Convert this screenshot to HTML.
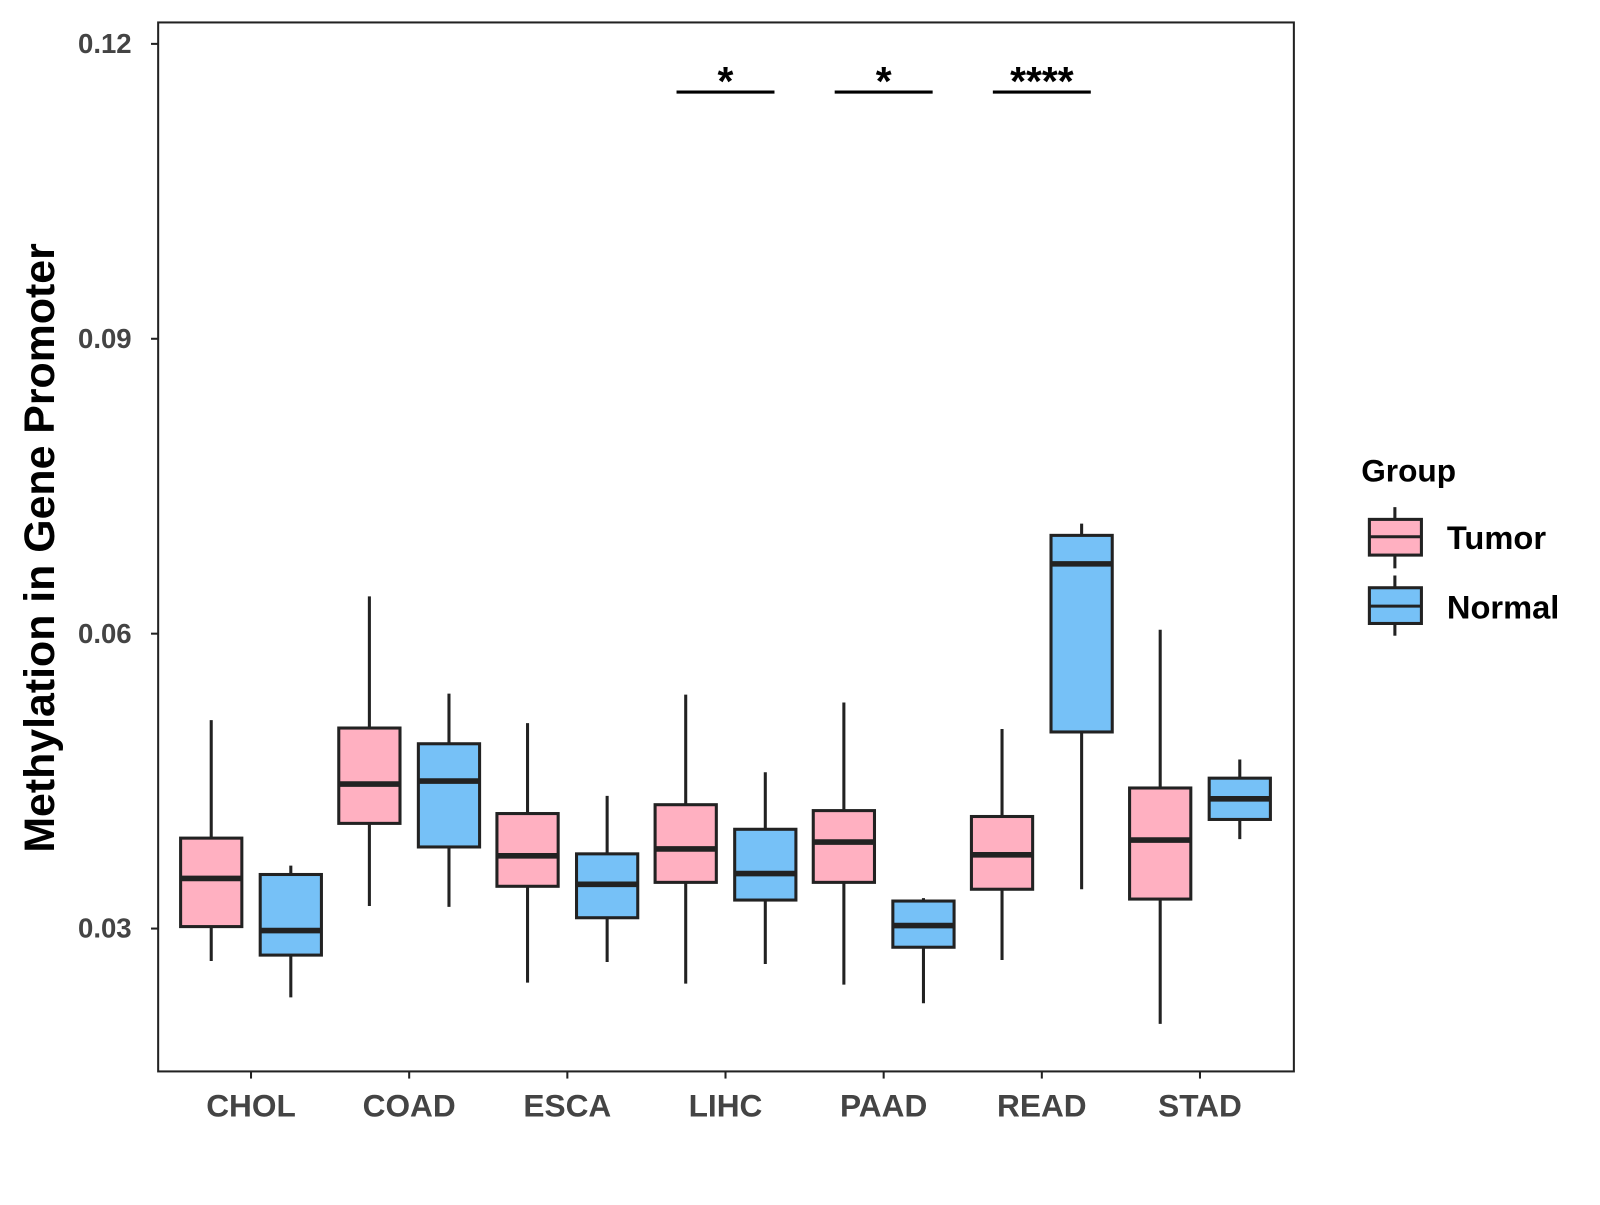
<!DOCTYPE html>
<html><head><meta charset="utf-8"><style>
html,body{margin:0;padding:0;background:#fff;}
svg text{font-family:"Liberation Sans",Arial,sans-serif;font-weight:bold;}
</style></head><body>
<svg id="chart" width="1600" height="1200" xmlns="http://www.w3.org/2000/svg">
<g transform="scale(1.0204)">
<rect x="155" y="22" width="1113" height="1028" fill="#fff" stroke="#222" stroke-width="2"/>
<g id="axes"></g><g id="boxes"></g><g id="sig"></g>
<text transform="translate(53,537) rotate(-90)" text-anchor="middle" font-size="42" fill="#000">Methylation in Gene Promoter</text>
<g>
<text x="1334" y="472" font-size="31" fill="#000">Group</text>
<g>
<line x1="1367" y1="497" x2="1367" y2="557" stroke="#222" stroke-width="3"/>
<rect x="1342" y="509" width="51" height="35" fill="#FFB0C1" stroke="#222" stroke-width="3"/>
<line x1="1342" y1="526" x2="1393" y2="526" stroke="#222" stroke-width="3"/>
<text x="1418" y="538" font-size="32" fill="#000">Tumor</text></g>
<g>
<line x1="1367" y1="564" x2="1367" y2="623" stroke="#222" stroke-width="3"/>
<rect x="1342" y="576" width="51" height="35" fill="#76C1F7" stroke="#222" stroke-width="3"/>
<line x1="1342" y1="594" x2="1393" y2="594" stroke="#222" stroke-width="3"/>
<text x="1418" y="606" font-size="32" fill="#000">Normal</text></g>
</g>
</g>
</svg>
<script>
const categories=["CHOL","COAD","ESCA","LIHC","PAAD","READ","STAD"];
const yTicks=[0.03,0.06,0.09,0.12];
const yTickLabels=["0.03","0.06","0.09","0.12"];
// [low, q1, median, q3, high]
const tumorStats=[[0.0267,0.0302,0.0351,0.0392,0.0512],[0.0323,0.0407,0.0447,0.0504,0.0638],[0.0245,0.0343,0.0374,0.0417,0.0509],[0.0244,0.0347,0.0381,0.0426,0.0538],[0.0243,0.0347,0.0388,0.0420,0.0530],[0.0268,0.0340,0.0375,0.0414,0.0503],[0.0203,0.0330,0.0390,0.0443,0.0604]];
const normalStats=[[0.0230,0.0273,0.0298,0.0355,0.0364],[0.0322,0.0383,0.0450,0.0488,0.0539],[0.0266,0.0311,0.0345,0.0376,0.0435],[0.0264,0.0329,0.0356,0.0401,0.0459],[0.0224,0.0281,0.0303,0.0328,0.0331],[0.0340,0.0500,0.0671,0.0700,0.0712],[0.0391,0.0411,0.0432,0.0453,0.0472]];
const sigCategories=["LIHC","PAAD","READ"];
const sigLabels=["*","*","****"];
const sigLevel=0.1151;
const NS="http://www.w3.org/2000/svg";
const y=v=>43+(0.12-v)*9633.3;
const x=i=>246+i*155;
function mk(tag,attrs,parent){const e=document.createElementNS(NS,tag);for(const k in attrs)e.setAttribute(k,attrs[k]);parent.appendChild(e);return e;}
const ax=document.getElementById('axes');
yTicks.forEach((t,i)=>{
 const l=mk('line',{x1:148,x2:155,y1:y(t),y2:y(t),stroke:'#222','stroke-width':2},ax);
 
 
 const tx=mk('text',{x:129,y:y(t)+9,'text-anchor':'end','font-size':27,fill:'#444'},ax);
 tx.textContent=yTickLabels[i];
 
 
});
categories.forEach((c,i)=>{
 const l=mk('line',{x1:x(i),x2:x(i),y1:1050,y2:1057,stroke:'#222','stroke-width':2},ax);
 
 
 const tx=mk('text',{x:x(i),y:1094,'text-anchor':'middle','font-size':31,fill:'#444'},ax);
 tx.textContent=c;
 
 
});
const bx=document.getElementById('boxes');
function drawBox(s,cx,fill,name){
 const g=mk('g',{},bx);
 
 
 mk('line',{x1:cx,x2:cx,y1:y(s[4]),y2:y(s[0]),stroke:'#222','stroke-width':3},g);
 mk('rect',{x:cx-30,y:y(s[3]),width:60,height:y(s[1])-y(s[3]),fill:fill,stroke:'#222','stroke-width':3},g);
 mk('line',{x1:cx-30,x2:cx+30,y1:y(s[2]),y2:y(s[2]),stroke:'#222','stroke-width':5.5},g);
}
categories.forEach((c,i)=>{
 drawBox(tumorStats[i],x(i)-39,'#FFB0C1','box-tumor-'+c.toLowerCase());
 drawBox(normalStats[i],x(i)+39,'#76C1F7','box-normal-'+c.toLowerCase());
});
const sg=document.getElementById('sig');
sigCategories.forEach((c,k)=>{
 const i=categories.indexOf(c);
 const l=mk('line',{x1:x(i)-48,x2:x(i)+48,y1:y(sigLevel),y2:y(sigLevel),stroke:'#000','stroke-width':3},sg);
 
 
 const t=mk('text',{x:x(i),y:y(sigLevel)+3,'text-anchor':'middle','font-size':40,fill:'#000'},sg);
 t.textContent=sigLabels[k];
 
 
});
</script>
</body></html>
